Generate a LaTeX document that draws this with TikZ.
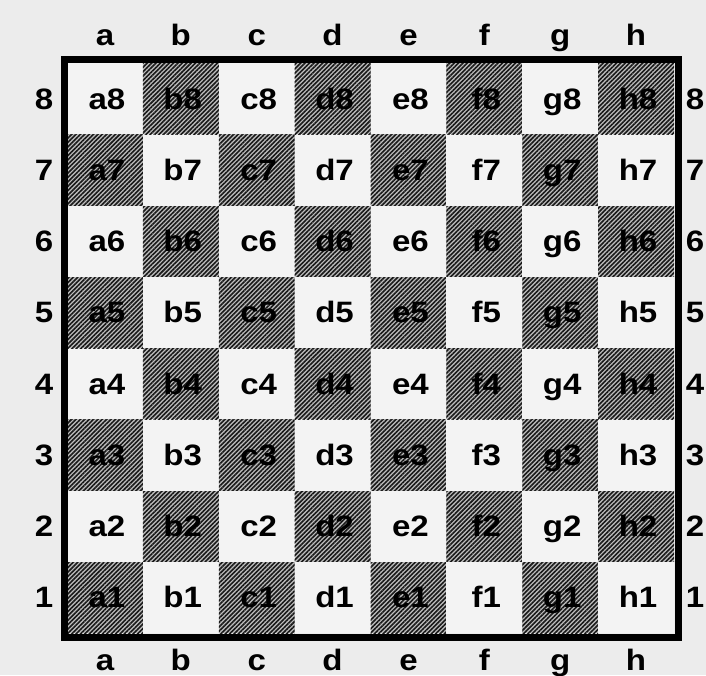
\documentclass[tikz,border=0pt]{standalone}
\usepackage{fontspec}
\setmainfont{Liberation Sans}[FakeStretch=1.12]
\usetikzlibrary{patterns.meta}
\definecolor{bgc}{HTML}{ECECEC}
\definecolor{lightsq}{HTML}{F3F3F3}
\definecolor{darksq}{HTML}{BDBDBD}
\begin{document}
\begin{tikzpicture}[x=1pt,y=-1pt,
  lbl/.style={font=\fontsize{29.5}{29.5}\selectfont\bfseries, anchor=base, inner sep=0pt, text=black},
  sqlbl/.style={lbl},
  darkfill/.style={fill=darksq},
  hatch/.style={pattern={Lines[angle=45,distance=3.1pt,line width=1.6pt]}, pattern color=black!90},
  lightfill/.style={fill=lightsq},
  frame/.style={line width=7pt, draw=black}]
\useasboundingbox (0,0) rectangle (706,675);
\fill[bgc] (0,0) rectangle (706,675);
\foreach \c [count=\i from 0] in {a,b,c,d,e,f,g,h} {
  \foreach \r in {1,...,8} {
    \pgfmathsetmacro\xa{67+75.875*\i}
    \pgfmathsetmacro\ya{63+71.25*(8-\r)}
    \pgfmathsetmacro\xb{\xa+75.875}
    \pgfmathsetmacro\yb{\ya+71.25}
    \pgfmathsetmacro\xc{\xa+37.9+2}
    \pgfmathsetmacro\yc{\ya+35.6+10.5}
    \pgfmathtruncatemacro\p{mod(\i+\r,2)}
    \ifnum\p=1
      \fill[darkfill] (\xa,\ya) rectangle (\xb,\yb);
      \fill[hatch] (\xa,\ya) rectangle (\xb,\yb);
    \else
      \fill[lightfill] (\xa,\ya) rectangle (\xb,\yb);
    \fi
    \node[sqlbl] (sq-\c\r) at (\xc,\yc) {\c\r};
  }
  \pgfmathsetmacro\xl{67+75.875*(\i+0.5)}
  \node[lbl] (top-\c) at (\xl,45) {\c};
  \node[lbl] (bot-\c) at (\xl,670) {\c};
}
\foreach \r in {1,...,8} {
  \pgfmathsetmacro\yl{63+71.25*(8-\r)+35.6+10.5}
  \node[lbl] (left-\r) at (44,\yl) {\r};
  \node[lbl] (right-\r) at (695,\yl) {\r};
}
\draw[frame] (64,59) rectangle (678,637);
\end{tikzpicture}
\end{document}
